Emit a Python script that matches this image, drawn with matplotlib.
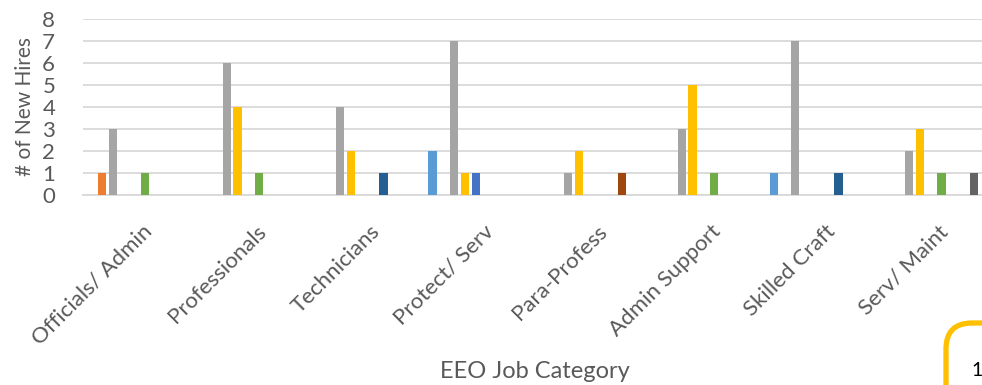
import numpy as np
import matplotlib.pyplot as plt
from matplotlib.patches import FancyBboxPatch

# EEO job categories (x axis)
categories = ["Officials/ Admin", "Professionals", "Technicians", "Protect/ Serv",
              "Para-Profess", "Admin Support", "Skilled Craft", "Serv/ Maint"]

# one list per series, in Excel's default colour order
series_1 = [0, 0, 0, 2, 0, 0, 1, 0]
series_2 = [1, 0, 0, 0, 0, 0, 0, 0]
series_3 = [3, 6, 4, 7, 1, 3, 7, 2]
series_4 = [0, 4, 2, 1, 2, 5, 0, 3]
series_5 = [0, 0, 0, 1, 0, 0, 0, 0]
series_6 = [1, 1, 0, 0, 0, 1, 0, 1]
series_7 = [0, 0, 1, 0, 0, 0, 1, 0]
series_8 = [0, 0, 0, 0, 1, 0, 0, 0]
series_9 = [0, 0, 0, 0, 0, 0, 0, 1]
series_10 = [0, 0, 0, 0, 0, 0, 0, 0]

all_series = [series_1, series_2, series_3, series_4, series_5,
              series_6, series_7, series_8, series_9, series_10]
colors = ["#5B9BD5", "#ED7D31", "#A5A5A5", "#FFC000", "#4472C4",
          "#70AD47", "#255E91", "#9E480E", "#636363", "#997300"]

plt.rcParams['font.family'] = ['Lato', 'DejaVu Sans']

fig = plt.figure(figsize=(9.82, 3.85), dpi=100)
ax = fig.add_axes([83 / 982, 190 / 385, 910 / 982, 176 / 385])

x = np.arange(len(categories))
n = len(all_series)
pitch = 0.095
width = 0.072
for i, (vals, c) in enumerate(zip(all_series, colors)):
    ax.bar(x + (i - (n - 1) / 2) * pitch, vals, width, color=c, zorder=3)

ax.set_xlim(-0.5, len(categories) - 0.5)
ax.set_ylim(0, 8)
ax.set_yticks(range(0, 9))
ax.yaxis.grid(True, color="#D9D9D9", linewidth=1.3, zorder=0)
for s in ["top", "right", "left"]:
    ax.spines[s].set_visible(False)
ax.spines["bottom"].set_color("#D9D9D9")
ax.spines["bottom"].set_linewidth(1.3)
ax.tick_params(axis="both", length=0, colors="#595959")
ax.tick_params(axis="y", labelsize=16, pad=20)
ax.set_xticks(x + 0.02)
ax.set_xticklabels(categories, rotation=45, ha="right", rotation_mode="anchor",
                   fontsize=16, color="#595959")
ax.tick_params(axis="x", pad=19)
ax.set_ylabel("# of New Hires", fontsize=15, color="#595959", labelpad=5)
fig.text(535 / 982, 13 / 385, "EEO Job Category", ha="center", va="center",
         fontsize=17, color="#595959")

# page badge in the corner (display pixels)
badge = FancyBboxPatch((946, -100), 200, 162,
                       boxstyle="round,pad=0,rounding_size=26",
                       transform=None, fill=False,
                       edgecolor="#FFC000", linewidth=3.8)
fig.patches.append(badge)
fig.text(971 / 982, 14 / 385, "1", fontsize=14, color="black", va="center")

fig.savefig("out.png", dpi=100)
